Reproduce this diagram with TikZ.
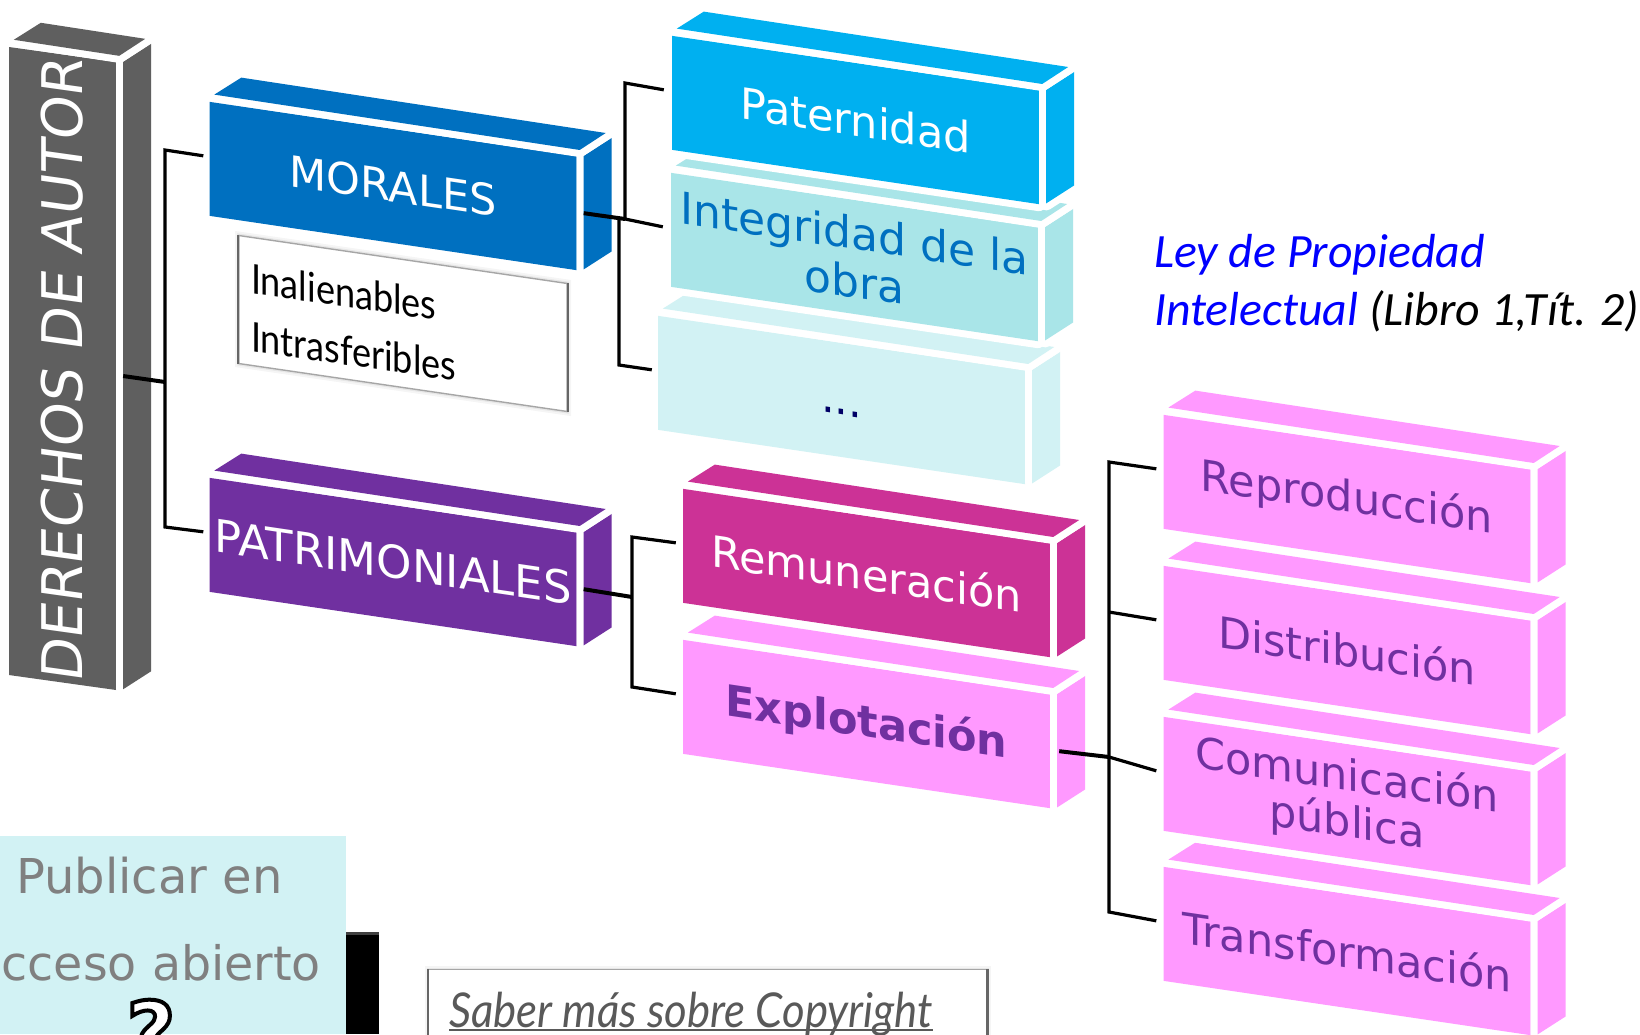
\documentclass[tikz,border=0pt]{standalone}
\usepackage{fontspec}
\setmainfont{DejaVu Sans}
\newfontfamily\gillfont[FakeStretch=0.88]{Lato}
\newfontfamily\gillcond[FakeStretch=0.91]{Lato}
\newfontfamily\leyfont{Carlito}
\usetikzlibrary{positioning}
\definecolor{grisbarra}{HTML}{5F5F5F}
\definecolor{azulmoral}{HTML}{0070C0}
\definecolor{azulclaro}{HTML}{00B0F0}
\definecolor{turquesa}{HTML}{A9E5E8}
\definecolor{celeste}{HTML}{D2F2F4}
\definecolor{morado}{HTML}{7030A0}
\definecolor{magenta}{HTML}{CC3296}
\definecolor{rosa}{HTML}{FF99FF}
\tikzset{
    halo/.style={preaction={draw=white,line width=14,line join=round}},
    frente/.style={halo,shape=rectangle,inner sep=0,minimum width=367,minimum height=114,
        yslant=-0.148,transform shape,align=center,font=\fontsize{43}{47}\selectfont},
    conector/.style={draw=black,line width=3.2,line join=miter},
    troncal/.style={draw=black,line width=4},
    marco/.style={draw=black!35,line width=1.4,fill=white,
        preaction={draw=black,opacity=.04,line width=8},
        preaction={draw=black,opacity=.06,line width=4}},
    lado/.style={draw=black!60,line width=2.2},
}
% las dos caras de cada bloque: color, esquinas del frente
\newcommand{\caras}[4]{
    \fill[halo,fill=#1] ([shift={(7,0)}]#3) -- ([shift={(35,-18)}]#3) -- ([shift={(35,-19)}]#4) -- ([shift={(7,-1)}]#4) -- cycle;
    \fill[halo,fill=#1] ([shift={(5,-7)}]#2) -- ([shift={(32,-24)}]#2) -- ([shift={(29,-23)}]#3) -- ([shift={(3,-6)}]#3) -- cycle;
}
\newcommand{\caja}[2]{\caras{#1}{#2.north west}{#2.north east}{#2.south east}}
\begin{document}
\begin{tikzpicture}[x=1pt,y=-1pt]
    \useasboundingbox (0,0) rectangle (1640,1034);
    \path (62.5,368.5) node [halo,fill=grisbarra,text=white,inner sep=0,minimum width=628,minimum height=107,
        rotate=90,xslant=0.14,transform shape,font=\fontsize{56}{60}\selectfont] (autor) {DERECHOS DE AUTOR};
    \caras{grisbarra}{autor.north east}{autor.south east}{autor.south west}
    \path (393,186) node [frente,fill=azulmoral,text=white] (morales) {MORALES};
    \caja{azulmoral}{morales}
    \path (393,562) node [frente,fill=morado,text=white,font=\fontsize{45}{47}\selectfont] (patrimoniales) {PATRIMONIALES};
    \caja{morado}{patrimoniales}
    \path (403,323.5) node [marco,yslant=-0.146,transform shape,minimum width=328,minimum height=128,inner sep=12,
        text width=304,align=left,font=\gillfont\fontsize{41}{58}\selectfont] (rasgos) {\rule{0pt}{42pt}Inalienables\\Intrasferibles};
    \draw[lado] (rasgos.north west) -- (rasgos.south west);
    \draw[lado] (rasgos.north east) -- (rasgos.south east);
    % columna de morales
    \path (841.5,400) node [frente,fill=celeste,text=blue!40!black] (puntos) {\rule{0pt}{30pt}...};
    \caja{celeste}{puntos}
    \path (854.5,257) node [frente,fill=turquesa,text=azulmoral,font=\fontsize{44}{48}\selectfont] (integridad) {Integridad de la\\obra};
    \caja{turquesa}{integridad}
    \path (855.5,120) node [frente,fill=azulclaro,text=white] (paternidad) {Paternidad};
    \caja{azulclaro}{paternidad}
    % columna de patrimoniales
    \path (866.5,724) node [frente,fill=rosa,text=morado,font=\bfseries\fontsize{43}{47}\selectfont] (explotacion) {Explotación};
    \caja{rosa}{explotacion}
    \path (866.5,573) node [frente,fill=magenta,text=white] (remuneracion) {Remuneración};
    \caja{magenta}{remuneracion}
    \path (1347,951) node [frente,fill=rosa,text=morado] (transformacion) {Transformación};
    \caja{rosa}{transformacion}
    \path (1347,801) node [frente,fill=rosa,text=morado] (comunicacion) {Comunicación\\pública};
    \caja{rosa}{comunicacion}
    \path (1347,650) node [frente,fill=rosa,text=morado] (distribucion) {Distribución};
    \caja{rosa}{distribucion}
    \path (1347,499) node [frente,fill=rosa,text=morado] (reproduccion) {Reproducción};
    \caja{rosa}{reproduccion}
    % codos
    \coordinate (ejeA) at (165,382);
    \coordinate (ejeAtop) at (165,150);
    \coordinate (ejeAbot) at (165,527);
    \coordinate (ejeB) at (625,219);
    \coordinate (ejeBtop) at (625,83);
    \coordinate (ejeBb) at (619,218);
    \coordinate (ejeBbot) at (619,365);
    \coordinate (ejeC) at (632,597);
    \coordinate (ejeCtop) at (632,537);
    \coordinate (ejeCbot) at (632,687);
    \coordinate (ejeD) at (1109,757);
    \coordinate (ejeDtop) at (1109,462);
    \coordinate (ejeDb) at (1109,612);
    \coordinate (ejeDbot) at (1109,912);
    \draw[troncal] ([xshift=7]autor.south) -- (ejeA);
    \draw[conector] ([xshift=-6,yshift=3]morales.west) -- (ejeAtop) -- (ejeAbot) -- ([xshift=-6,yshift=3]patrimoniales.west);
    \draw[troncal] ([xshift=7]morales.east) -- (ejeB);
    \draw[conector] ([xshift=-8,yshift=3]paternidad.west) -- (ejeBtop) -- (ejeB) -- ([xshift=-8,yshift=3]integridad.west);
    \draw[conector] (ejeBb) -- (ejeBbot) -- ([xshift=-6,yshift=3]puntos.west);
    \draw[troncal] ([xshift=7]patrimoniales.east) -- (ejeC);
    \draw[conector] ([xshift=-7,yshift=3]remuneracion.west) -- (ejeCtop) -- (ejeCbot) -- ([xshift=-7,yshift=3]explotacion.west);
    \draw[troncal] ([xshift=9]explotacion.east) -- (ejeD);
    \draw[conector] ([xshift=-7,yshift=3]reproduccion.west) -- (ejeDtop) -- (ejeDbot) -- ([xshift=-7,yshift=3]transformacion.west);
    \draw[conector] (ejeDb) -- ([xshift=-7,yshift=3]distribucion.west);
    \draw[conector] (ejeD) -- ([xshift=-7,yshift=3]comunicacion.west);
    % ley
    \path (1154,234) node [anchor=north west,inner sep=0,align=left,text=blue,
        font=\leyfont\itshape\fontsize{47.8}{58}\selectfont] (ley) {Ley de Propiedad\\Intelectual {\color{black}(Libro 1,Tít. 2)}};
    % abajo
    \fill[black] (346,932) rectangle (379,1034);
    \fill[black!75] (346,932) rectangle (379,935);
    \path (0,836) node [anchor=north west,fill=celeste,inner sep=0,minimum width=346,minimum height=198] (abierto) {};
    \path (16,893) node [anchor=base west,inner sep=0,text=black!50,font=\fontsize{48}{50}\selectfont] (publicar) {Publicar en};
    \path (1.5,980) node [anchor=base west,inner sep=0,text=black!50,font=\fontsize{47.5}{50}\selectfont] (acceso) {cceso abierto};
    \path (151,1062) node [anchor=base,inner sep=0,text=white,font=\bfseries\fontsize{84}{84}\selectfont] (pregunta)
        {\special{pdf:code 2 Tr 4 w 0 G}?\special{pdf:code 0 Tr 1 w}};
    \path (428,969) node [anchor=north west,marco,minimum width=558,minimum height=90,inner sep=0] (saber) {};
    \draw[lado] (saber.north west) -- (saber.south west);
    \draw[lado] (saber.north east) -- (saber.south east);
    \path (449,1027) node [anchor=base west,inner sep=0,text=black!65,font=\gillcond\itshape\fontsize{48}{50}\selectfont] (sabertxt) {Saber más sobre Copyright};
    \draw[draw=black!65,line width=2.2] ([yshift=-3]sabertxt.base west) -- ([yshift=-3]sabertxt.base east);
\end{tikzpicture}
\end{document}
